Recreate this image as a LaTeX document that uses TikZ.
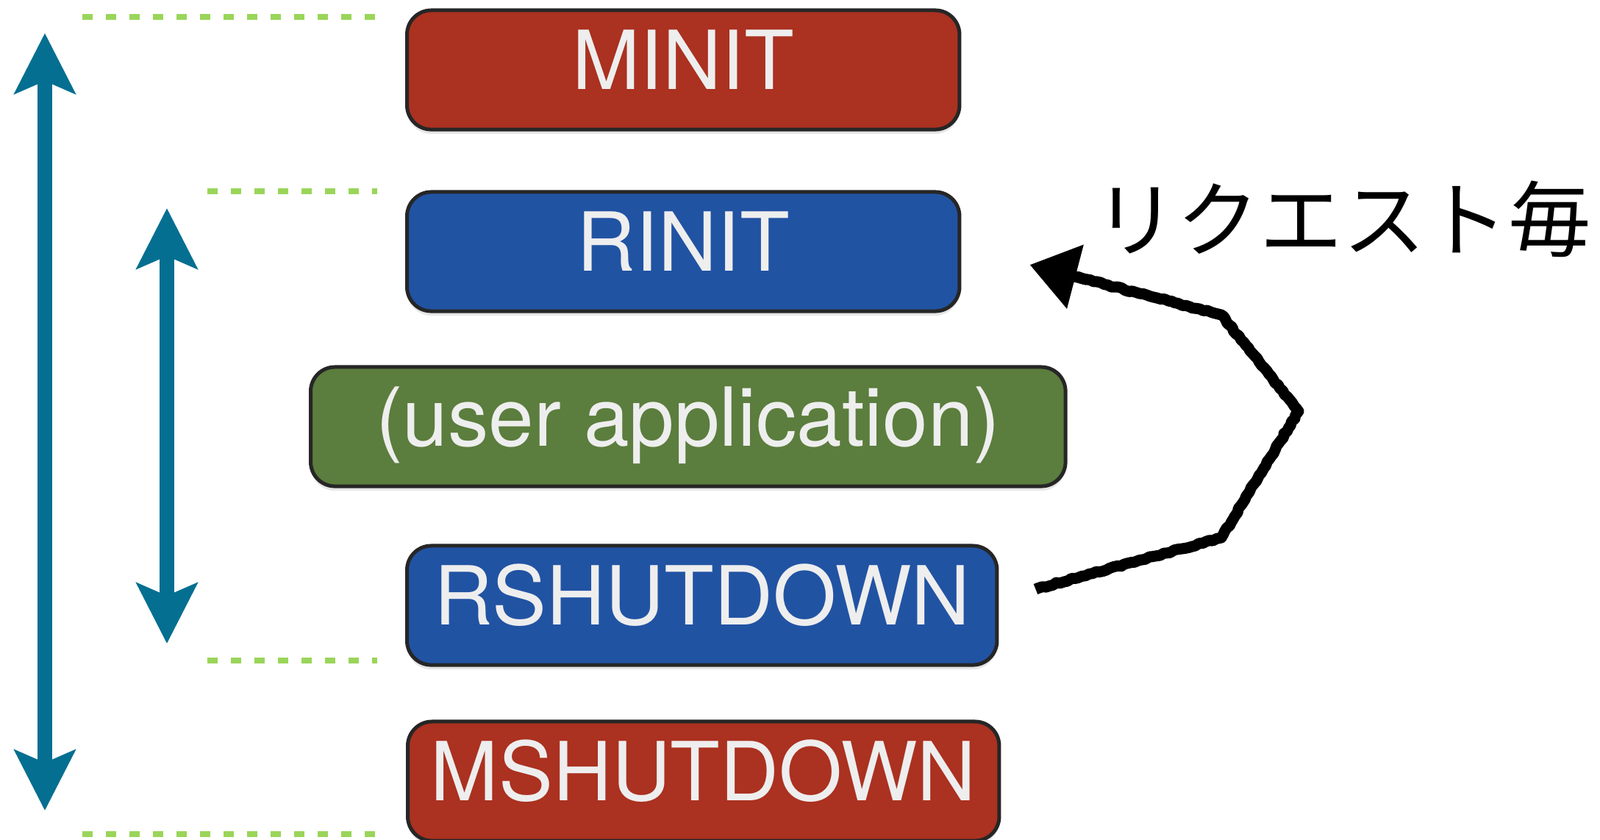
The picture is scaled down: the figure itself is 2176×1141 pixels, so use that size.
\documentclass[tikz,border=0pt]{standalone}
\usepackage{fontspec}
\setmainfont{TeX Gyre Heros}
\newfontfamily\jpfont{Noto Sans CJK JP}
\usetikzlibrary{positioning,calc,arrows.meta,shadows,decorations.pathmorphing}

\definecolor{moduered}{HTML}{AB3120}
\definecolor{reqblue}{HTML}{2153A3}
\definecolor{appgreen}{HTML}{5B7D3D}
\definecolor{framegray}{HTML}{262626}
\definecolor{hooktext}{HTML}{EEEEEE}
\definecolor{scopeteal}{HTML}{046F91}
\definecolor{guidegreen}{HTML}{9AD55A}

\begin{document}
\begin{tikzpicture}[
    x=0.01cm, y=-0.01cm,
    font=\fontsize{31.5}{36}\selectfont,
    hook/.style={draw=framegray, line width=0.05cm, rounded corners=0.33cm, anchor=west, inner sep=0.1cm,
      minimum height=1.62cm, text=hooktext, text height=0.8cm, text depth=0.28cm,
      drop shadow={shadow xshift=0pt, shadow yshift=-0.06cm, opacity=0.2}},
    span/.style={draw=scopeteal, line width=0.19cm,
      {Stealth[length=0.82cm, width=0.82cm, inset=0.17cm]}-{Stealth[length=0.82cm, width=0.82cm, inset=0.17cm]}},
    guide/.style={draw=guidegreen, line width=0.08cm, dash pattern=on 0.14cm off 0.18cm},
    sketch/.style={draw=black, line width=0.15cm, line join=round,
      decoration={random steps, segment length=0.05cm, amplitude=0.012cm}, decorate},
    sketcharr/.style={draw=black, line width=0.15cm, -{Triangle[length=0.64cm, width=0.86cm]}}
  ]
    \useasboundingbox (0,0) rectangle (2176,1141);

    \node[hook, fill=moduered, minimum width=7.51cm] (minit) at (551,95) {MINIT};
    \node[hook, fill=reqblue, minimum width=7.51cm] (rinit) at (551,342) {RINIT};
    \node[hook, fill=appgreen, minimum width=10.26cm] (app) at (420,580) {(user application)};
    \node[hook, fill=reqblue, minimum width=8.02cm] (rshut) at (551,823) {RSHUTDOWN};
    \node[hook, fill=moduered, minimum width=8.04cm] (mshut) at (552,1062) {MSHUTDOWN};

    \node[font=\jpfont\fontsize{32}{36}\selectfont] (perreq) at (1826,298) {リクエスト毎};

    \draw[guide] ($(minit.north west)+(-439,12)$) -- ++(401,0);
    \draw[guide] ($(rinit.north west)+(-269,2)$) -- ++(231,0);
    \draw[guide] ($(rshut.south west)+(-269,-9)$) -- ++(231,0);
    \draw[guide] ($(mshut.south west)+(-440,-12)$) -- ++(401,0);

    \coordinate (mtop) at (61,45);
    \coordinate (mbot) at (61,1102);
    \coordinate (rtop) at (227,283);
    \coordinate (rbot) at (227,875);
    \draw[span] (mtop) -- (mbot);
    \draw[span] (rtop) -- (rbot);

    \coordinate (loopstart) at ($(rshut.east)+(50,-22)$);
    \coordinate (loopend) at ($(rinit.east)+(93,18)$);
    \coordinate (bend1) at (1661,731);
    \coordinate (bend2) at (1766,559);
    \coordinate (bend3) at (1661,428);
    \draw[sketch] (loopstart) -- (bend1) -- (bend2) -- (bend3) -- ($(loopend)!0.22!(bend3)$);
    \draw[sketcharr] ($(loopend)!0.3!(bend3)$) -- (loopend);
  \end{tikzpicture}
\end{document}
